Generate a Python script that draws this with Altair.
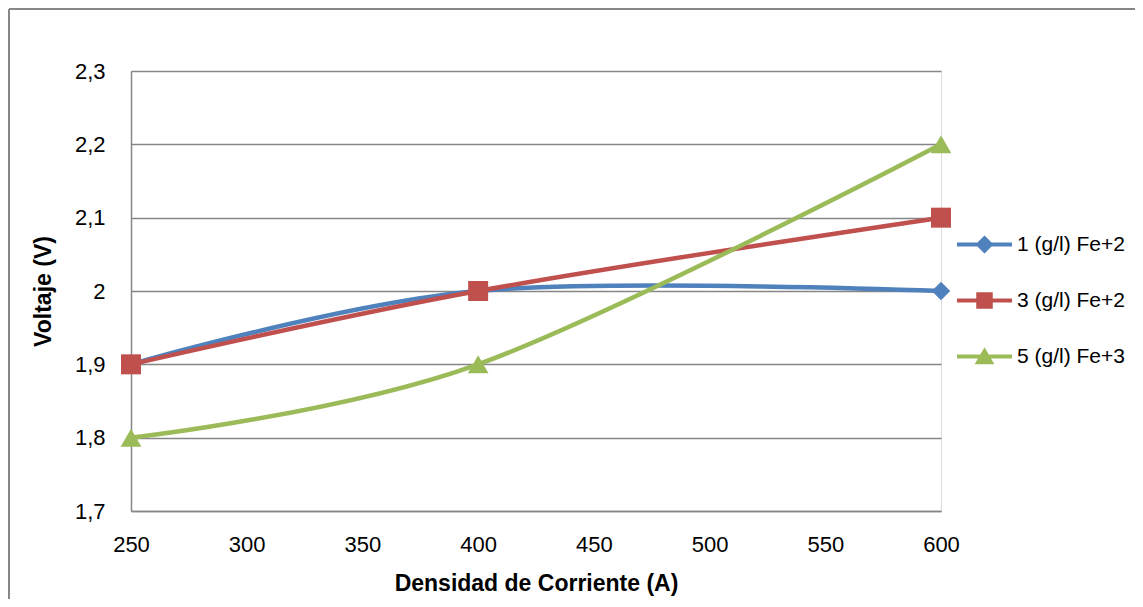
import altair as alt
import pandas as pd

# ---- data ----
x_vals = [250, 400, 600]
series = ["1 (g/l) Fe+2", "3 (g/l) Fe+2", "5 (g/l) Fe+3"]
s1 = [1.9, 2.0, 2.0]
s2 = [1.9, 2.0, 2.1]
s3 = [1.8, 1.9, 2.2]
colors = ["#4F81BD", "#C0504D", "#9BBB59"]
x_ticks = [250, 300, 350, 400, 450, 500, 550, 600]
y_ticks = [1.7, 1.8, 1.9, 2.0, 2.1, 2.2, 2.3]

rows = []
for name, vals in zip(series, [s1, s2, s3]):
    for i, (xv, yv) in enumerate(zip(x_vals, vals)):
        rows.append({"series": name, "x": xv, "y": yv, "order": i})
df = pd.DataFrame(rows)

FONT = "Liberation Sans"
GRID = "#868686"

W, H = 810, 440
PAD = {"left": 123, "top": 63, "right": 194, "bottom": 88}

xenc = alt.X(
    "x:Q",
    scale=alt.Scale(domain=[250, 600], nice=False, zero=False),
    axis=alt.Axis(
        values=x_ticks, title="Densidad de Corriente (A)", grid=False,
        ticks=False, tickSize=0, domainColor=GRID, domainWidth=1.5,
        labelFont=FONT, labelFontSize=22, labelColor="#000000", labelPadding=23,
        titleFont=FONT, titleFontSize=23, titleFontWeight="bold",
        titleColor="#000000", titlePadding=17, labelFlush=False,
    ),
)
yenc = alt.Y(
    "y:Q",
    scale=alt.Scale(domain=[1.7, 2.3], nice=False, zero=False),
    axis=alt.Axis(
        values=y_ticks, title="Voltaje (V)", grid=True, gridColor=GRID,
        gridWidth=1.5, ticks=False, tickSize=0, domainColor=GRID, domainWidth=1.5,
        labelExpr="replace(format(datum.value, '.1~f'), '.', ',')",
        labelFont=FONT, labelFontSize=22, labelColor="#000000", labelPadding=26,
        titleFont=FONT, titleFontSize=23, titleFontWeight="bold",
        titleColor="#000000", titlePadding=19, labelFlush=False,
    ),
)

base = alt.Chart(df)
shapes = ["diamond", "square", "triangle-up"]
sizes = [340, 400, 430]

layers = []
for i, name in enumerate(series):
    sub = base.transform_filter(alt.datum.series == name)
    layers.append(
        sub.mark_line(interpolate="cardinal", strokeWidth=4.5, color=colors[i])
        .encode(x=xenc, y=yenc, order="order:Q")
    )
    layers.append(
        sub.mark_point(shape=shapes[i], filled=True, size=sizes[i],
                       color=colors[i], opacity=1)
        .encode(x=xenc, y=yenc)
    )

# legend symbols: line with marker, drawn as custom paths
paths = [
    "M-1,-0.075H1V0.075H-1Z M0,-0.33L0.33,0L0,0.33L-0.33,0Z",
    "M-1,-0.075H1V0.075H-1Z M-0.3,-0.3H0.3V0.3H-0.3Z",
    "M-1,-0.075H1V0.075H-1Z M0,-0.34L0.36,0.28H-0.36Z",
]
leg = alt.Legend(
    title=None, orient="none", legendX=826, legendY=146,
    symbolSize=3025, symbolOpacity=1, symbolStrokeWidth=0,
    labelFont=FONT, labelFontSize=21, labelColor="#000000",
    labelOffset=5, rowPadding=18, labelLimit=300,
)
legend_layer = base.mark_point(filled=True, opacity=0).encode(
    x=xenc, y=yenc,
    color=alt.Color("series:N", scale=alt.Scale(domain=series, range=colors), legend=leg),
    shape=alt.Shape("series:N", scale=alt.Scale(domain=series, range=paths), legend=leg),
)

# outer chart-area frame (top and left edges; the others fall outside the picture)
frame_df = pd.DataFrame({"b": [0]})
frame_top = alt.Chart(frame_df).mark_rule(stroke="#878787", strokeWidth=2).encode(
    x=alt.value(-122), x2=alt.value(W + PAD["right"]), y=alt.value(-62))
frame_left = alt.Chart(frame_df).mark_rule(stroke="#878787", strokeWidth=2).encode(
    x=alt.value(-122), y=alt.value(-62), y2=alt.value(H + PAD["bottom"]))

chart = alt.layer(frame_top, frame_left, *layers, legend_layer).properties(
    width=W, height=H,
    autosize=alt.AutoSizeParams(type="none"),
    padding=PAD,
).configure_view(stroke="transparent").configure(background="#ffffff")

chart.save("out.html", embed_options={"renderer": "svg", "actions": False})
